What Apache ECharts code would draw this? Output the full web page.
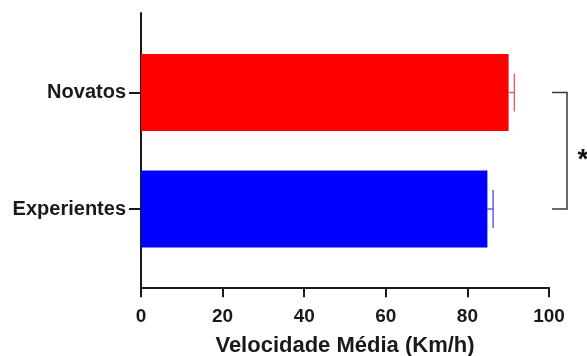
<!DOCTYPE html>
<html>
<head>
<meta charset="utf-8">
<script src="https://cdn.jsdelivr.net/npm/echarts@6/dist/echarts.min.js"></script>
<style>html,body{margin:0;padding:0;background:#fff}#c{width:587px;height:356px}</style>
</head>
<body>
<div id="c"></div>
<script>
var categories = ['Experientes', 'Novatos'];
var means = [84.9, 90.1];
var errors = [1.4, 1.4];
var xTicks = [0, 20, 40, 60, 80, 100];
var barColors = ['#0000ff', '#ff0000'];
var errColors = ['#4a4ae6', '#e25a5a'];
var xAxisName = 'Velocidade Média (Km/h)';
var sigMark = '*';

var FONT = '"Liberation Sans", Arial, Helvetica, sans-serif';
var chart = echarts.init(document.getElementById('c'), null, {renderer: 'canvas'});

var barData = means.map(function (v, i) {
  return {value: v, itemStyle: {color: barColors[i]}};
});
var errData = means.map(function (v, i) { return [v, errors[i], i]; });

var option = {
  animation: false,
  backgroundColor: '#fff',
  grid: [
    {left: 141, right: 38, top: 34.25, bottom: 88.75, containLabel: false, outerBoundsMode: 'none'},
    {left: 141, right: 38, top: 13, bottom: 69, containLabel: false, outerBoundsMode: 'none'}
  ],
  xAxis: [
    {
      type: 'value', gridIndex: 0, min: xTicks[0], max: xTicks[xTicks.length - 1], interval: 20,
      offset: 20,
      axisLine: {show: true, lineStyle: {color: '#1a1a1a', width: 2}},
      axisTick: {show: true, length: 10, lineStyle: {color: '#1a1a1a', width: 2}},
      axisLabel: {color: '#1a1a1a', fontSize: 19, fontWeight: 'bold', fontFamily: FONT, margin: 20},
      splitLine: {show: false},
      name: xAxisName, nameLocation: 'middle', nameGap: 48,
      nameTextStyle: {color: '#1a1a1a', fontSize: 22, fontWeight: 'bold', fontFamily: FONT}
    },
    {type: 'value', gridIndex: 1, show: false, min: 0, max: 100}
  ],
  yAxis: [
    {
      type: 'category', gridIndex: 0, data: categories,
      axisLine: {show: false},
      axisTick: {show: true, alignWithLabel: true, length: 12, lineStyle: {color: '#1a1a1a', width: 2}},
      axisLabel: {color: '#1a1a1a', fontSize: 20, fontWeight: 'bold', fontFamily: FONT, margin: 15},
      splitLine: {show: false}
    },
    {
      type: 'value', gridIndex: 1, min: 0, max: 1,
      axisLine: {show: true, lineStyle: {color: '#1a1a1a', width: 2}},
      axisTick: {show: false}, axisLabel: {show: false}, splitLine: {show: false}
    }
  ],
  series: [
    {
      type: 'bar', xAxisIndex: 0, yAxisIndex: 0, data: barData, barWidth: 77,
      itemStyle: {borderWidth: 0}
    },
    {
      type: 'custom', xAxisIndex: 0, yAxisIndex: 0, clip: false, data: errData,
      renderItem: function (params, api) {
        var m = api.value(0), e = api.value(1), c = api.value(2);
        var p0 = api.coord([m, c]);
        var p1 = api.coord([m + e, c]);
        var col = errColors[c];
        var st = {stroke: col, lineWidth: 1.3};
        return {
          type: 'group', children: [
            {type: 'line', shape: {x1: p0[0], y1: p0[1], x2: p1[0], y2: p1[1]}, style: st},
            {type: 'line', shape: {x1: p1[0], y1: p1[1] - 19, x2: p1[0], y2: p1[1] + 19}, style: st}
          ]
        };
      }
    },
    {
      type: 'custom', xAxisIndex: 0, yAxisIndex: 0, clip: false, data: [[xTicks[xTicks.length - 1], 0, 1]],
      renderItem: function (params, api) {
        var xm = api.value(0);
        var a = api.coord([xm, api.value(2)]);
        var b = api.coord([xm, api.value(1)]);
        var x1 = a[0] + 3, x2 = a[0] + 18;
        var st = {stroke: '#3a3a3a', lineWidth: 1.5, fill: null};
        return {
          type: 'group', children: [
            {type: 'polyline', shape: {points: [[x1, a[1]], [x2, a[1]], [x2, b[1]], [x1, b[1]]]}, style: st},
            {type: 'text', x: a[0] + 34, y: (a[1] + b[1]) / 2 + 10,
              style: {text: sigMark, fill: '#111', font: 'bold 28px ' + FONT, align: 'center', verticalAlign: 'middle'}}
          ]
        };
      }
    }
  ]
};
chart.setOption(option);
</script>
</body>
</html>
